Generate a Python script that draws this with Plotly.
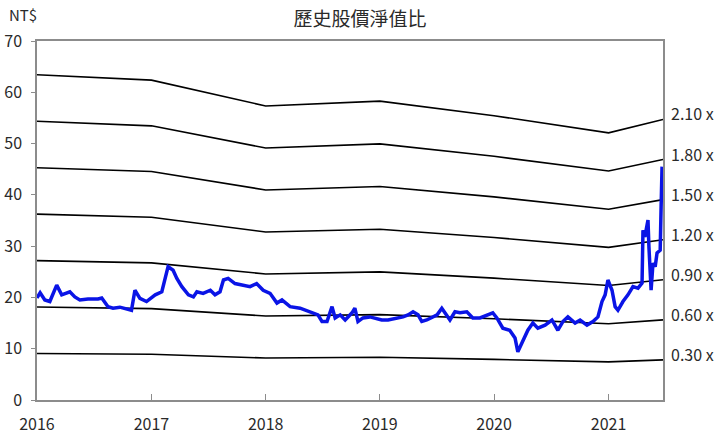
import numpy as np
import plotly.graph_objects as go

# price (NT$)
price_dates = [
    "2016-01-01", "2016-01-11", "2016-01-26", "2016-02-11", "2016-03-04", "2016-03-20",
    "2016-04-15", "2016-05-01", "2016-05-17", "2016-06-12", "2016-07-14", "2016-07-26",
    "2016-08-15", "2016-08-31", "2016-09-22", "2016-10-14", "2016-10-29", "2016-11-09",
    "2016-11-25", "2016-12-16", "2017-01-13", "2017-02-03", "2017-02-14", "2017-02-23",
    "2017-03-11", "2017-03-23", "2017-04-08", "2017-04-29", "2017-05-15", "2017-05-26",
    "2017-06-15", "2017-07-08", "2017-07-23", "2017-08-08", "2017-08-19", "2017-09-03",
    "2017-09-25", "2017-10-21", "2017-11-12", "2017-12-03", "2017-12-24", "2018-01-15",
    "2018-02-06", "2018-02-22", "2018-03-20", "2018-04-21", "2018-05-23", "2018-06-17",
    "2018-06-30", "2018-07-16", "2018-08-01", "2018-08-11", "2018-08-27", "2018-09-12",
    "2018-10-04", "2018-10-13", "2018-10-23", "2018-11-08", "2018-11-30", "2018-12-16",
    "2019-01-07", "2019-01-27", "2019-02-25", "2019-03-16", "2019-04-01", "2019-04-17",
    "2019-05-03", "2019-05-15", "2019-05-31", "2019-06-16", "2019-07-03", "2019-07-18",
    "2019-07-28", "2019-08-13", "2019-08-29", "2019-09-14", "2019-10-06", "2019-10-25",
    "2019-11-17", "2019-12-09", "2019-12-28", "2020-01-10", "2020-01-29", "2020-02-20",
    "2020-03-08", "2020-03-17", "2020-04-02", "2020-04-18", "2020-05-04", "2020-05-20",
    "2020-06-12", "2020-07-04", "2020-07-23", "2020-08-08", "2020-08-24", "2020-09-16",
    "2020-10-02", "2020-10-24", "2020-11-12", "2020-11-28", "2020-12-11", "2020-12-21",
    "2020-12-30", "2021-01-12", "2021-01-22", "2021-01-31", "2021-02-16", "2021-03-04",
    "2021-03-20", "2021-04-05", "2021-04-18", "2021-04-21", "2021-04-27", "2021-05-07",
    "2021-05-10", "2021-05-17", "2021-05-23", "2021-05-30", "2021-06-05", "2021-06-15",
    "2021-06-18", "2021-06-21",
]
price = [
    19.9, 20.9, 19.5, 19.2, 22.4, 20.5,
    21.1, 20.1, 19.5, 19.7, 19.7, 19.9,
    18.2, 17.9, 18.1, 17.7, 17.5, 21.4,
    19.8, 19.2, 20.5, 21.1, 24.0, 26.0,
    25.3, 23.7, 22.1, 20.5, 20.1, 21.1,
    20.8, 21.4, 20.5, 21.1, 23.4, 23.7,
    22.7, 22.4, 22.1, 22.7, 21.4, 20.8,
    18.9, 19.5, 18.2, 17.9, 17.2, 16.6,
    15.3, 15.3, 18.2, 16.0, 16.6, 15.6,
    17.0, 17.9, 15.3, 16.0, 16.2, 16.0,
    15.6, 15.6, 16.0, 16.2, 16.6, 17.2,
    16.6, 15.3, 15.6, 16.0, 16.6, 17.9,
    17.0, 15.6, 17.2, 17.0, 17.2, 16.0,
    16.0, 16.6, 17.0, 16.0, 14.0, 13.6,
    12.1, 9.4, 11.4, 13.6, 15.0, 14.0,
    14.6, 15.6, 13.6, 15.3, 16.2, 15.0,
    15.6, 14.6, 15.3, 16.2, 19.2, 20.5,
    23.4, 21.4, 18.2, 17.5, 19.2, 20.5,
    22.1, 21.8, 22.8, 33.1, 31.8, 35.1,
    29.9, 21.4, 26.7, 26.0, 28.7, 29.2,
    37.7, 45.5,
]

# book value per share (NT$) used for the P/B bands
bvps_dates = ["2016-01-01", "2017-01-01", "2018-01-01", "2019-01-01",
              "2020-01-01", "2021-01-01", "2021-06-24"]
bvps = [30.2, 29.7, 27.3, 27.75, 26.4, 24.8, 26.05]

multiples = [0.30, 0.60, 0.90, 1.20, 1.50, 1.80, 2.10]
band_labels = ["0.30 x", "0.60 x", "0.90 x", "1.20 x", "1.50 x", "1.80 x", "2.10 x"]

year_ticks = ["2016-01-01", "2017-01-01", "2018-01-01", "2019-01-01",
              "2020-01-01", "2021-01-01"]
year_labels = ["2016", "2017", "2018", "2019", "2020", "2021"]

font_fam = "Noto Sans CJK TC, Noto Sans, sans-serif"
axis_col = "#8c8c8c"
txt_col = "#2a2a2a"

fig = go.Figure()

for m, lab in zip(multiples, band_labels):
    band = np.array(bvps) * m
    fig.add_trace(go.Scatter(
        x=bvps_dates, y=band, mode="lines", name=lab,
        line=dict(color="black", width=1.6),
        hoverinfo="skip"
    ))
    # label to the right of each band, a bit above its end point
    fig.add_annotation(
        x=1, xref="paper", y=band[-1], text=lab.replace(" ", "\u00a0"),
        showarrow=False, xanchor="left", xshift=6, yshift=6,
        font=dict(size=16, color=txt_col, family=font_fam)
    )

fig.add_trace(go.Scatter(
    x=price_dates, y=price, mode="lines", name="股價",
    line=dict(color="#0a14e6", width=3.5)
))

fig.update_layout(
    width=720, height=438,
    margin=dict(l=37, r=57, t=41, b=38),
    paper_bgcolor="white", plot_bgcolor="white",
    showlegend=False,
    font=dict(family=font_fam, size=16, color=txt_col),
    title=dict(text="歷史股價淨值比", x=0.5, xanchor="center", y=0.955, yanchor="middle",
               font=dict(size=19, color=txt_col, family=font_fam)),
    xaxis=dict(
        type="date", range=["2016-01-01", "2021-06-24"],
        tickvals=year_ticks, ticktext=year_labels,
        showgrid=False, zeroline=False, automargin=False,
        showline=True, linecolor=axis_col, linewidth=1.5, mirror=True,
        ticks="inside", ticklen=6, tickcolor=axis_col,
        ticklabelstandoff=9,
        tickfont=dict(size=16, color=txt_col),
    ),
    yaxis=dict(
        range=[0, 70], dtick=10,
        showgrid=False, zeroline=False, automargin=False,
        showline=True, linecolor=axis_col, linewidth=1.5, mirror=True,
        ticks="outside", ticklen=4, tickcolor=axis_col,
        ticklabelstandoff=6,
        tickfont=dict(size=16, color=txt_col),
    ),
)

fig.add_annotation(
    x=0, y=1, xref="paper", yref="paper", text="NT$", showarrow=False,
    xanchor="left", yanchor="bottom", xshift=-30, yshift=14,
    font=dict(size=15, color=txt_col, family=font_fam)
)

# the page's default 8px body margin would push the chart off the window
fig.write_html("out.html", config={"displayModeBar": False},
               post_script="document.body.style.margin='0px';")
